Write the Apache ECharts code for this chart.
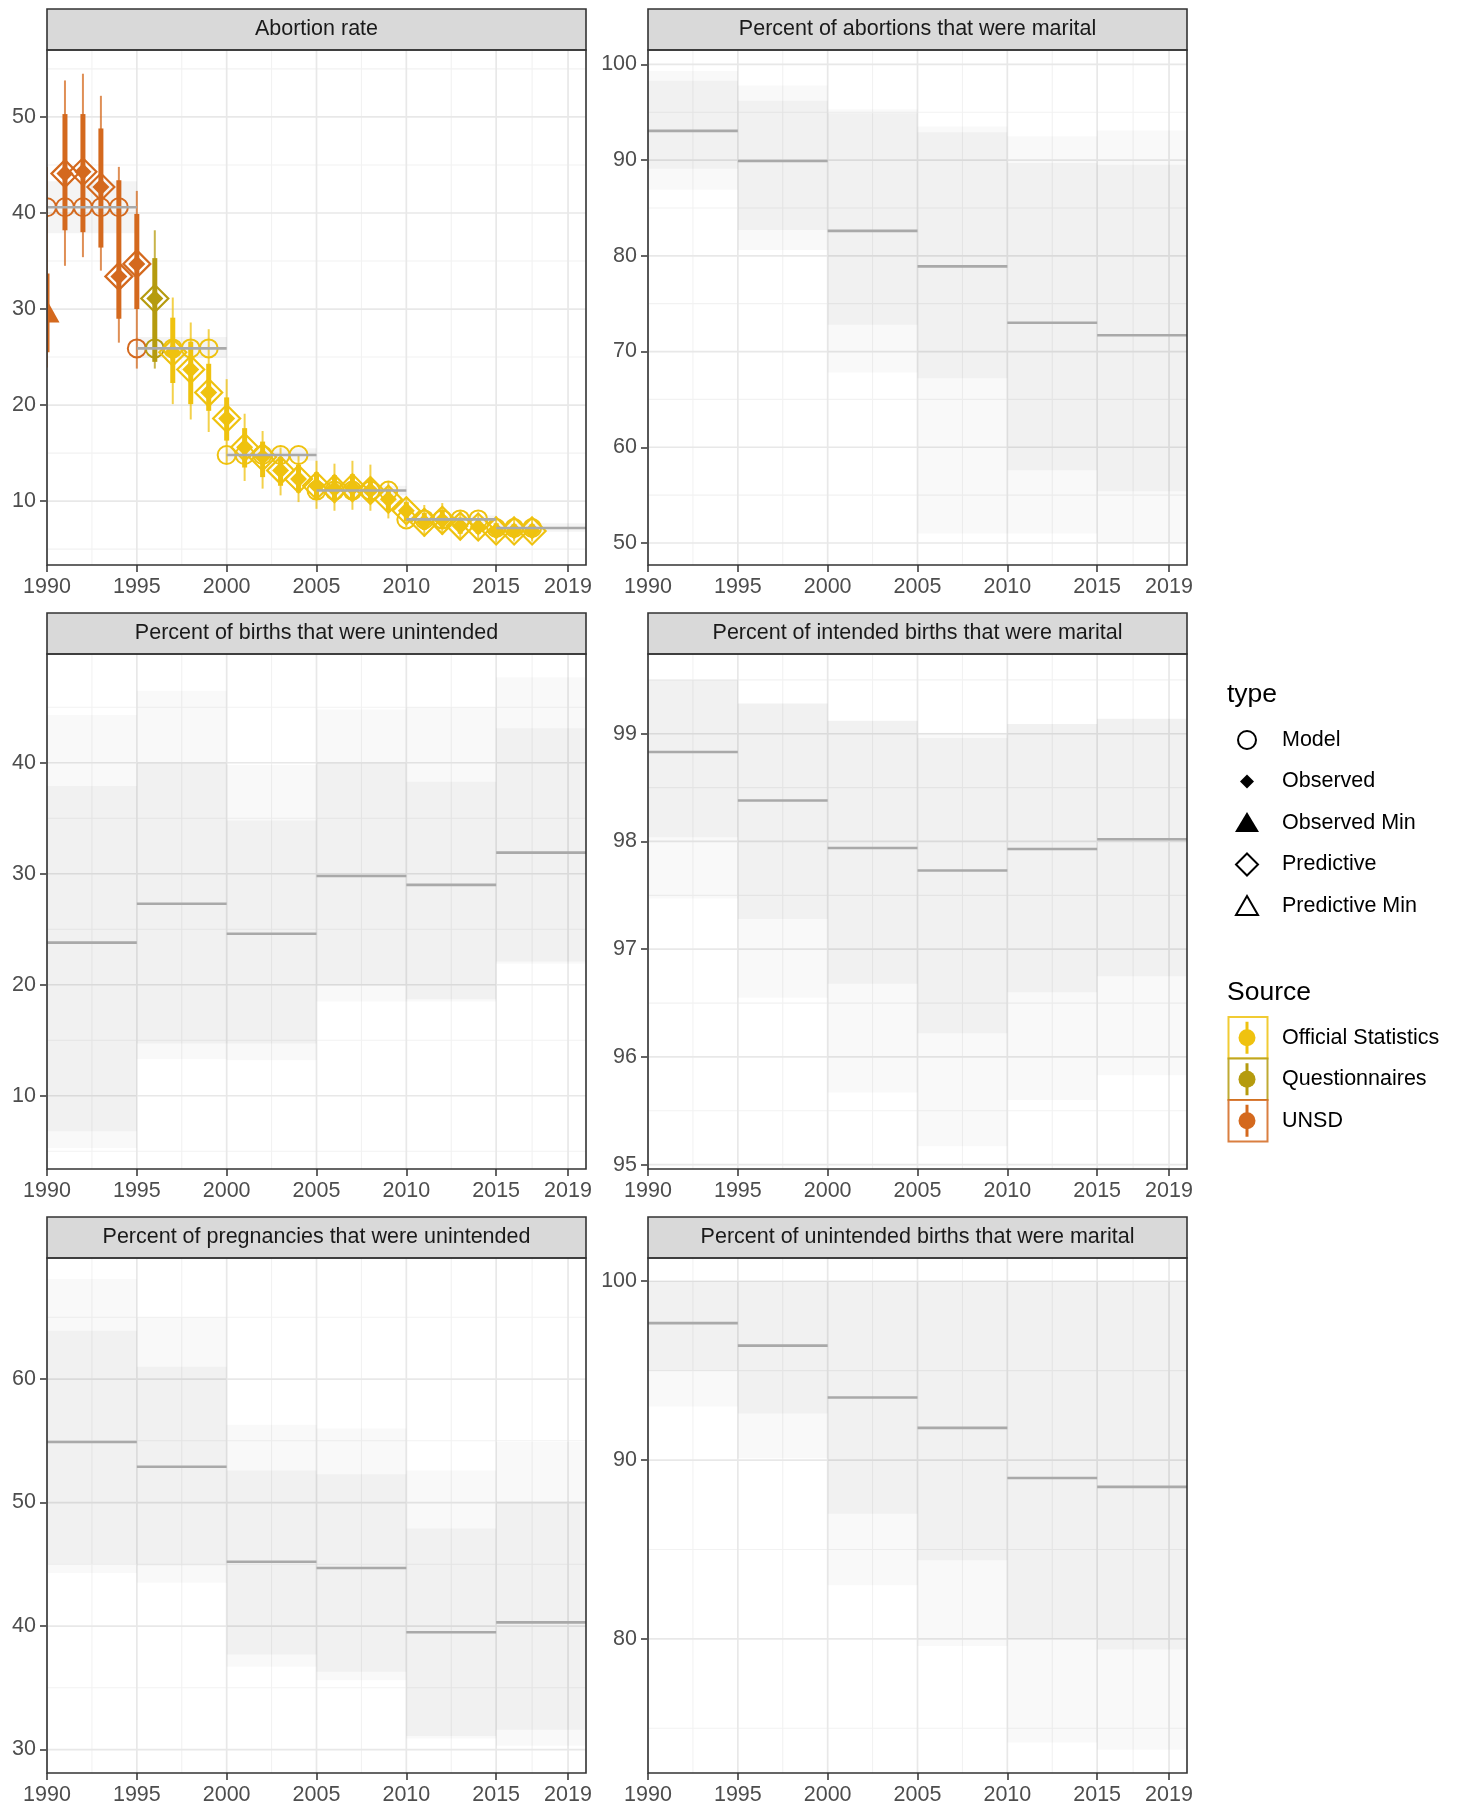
<!DOCTYPE html>
<html>
<head>
<meta charset="utf-8">
<title>Abortion and unintended pregnancy estimates</title>
<script src="https://cdn.jsdelivr.net/npm/echarts@6/dist/echarts.min.js"></script>
<style>
  html, body { margin: 0; padding: 0; background: #fff; }
  #main { width: 1457px; height: 1808px; }
</style>
</head>
<body>
<div id="main"></div>
<script>
// ---- data ----
var periodStart = [1990, 1995, 2000, 2005, 2010, 2015];
var periodEnd = [1995, 2000, 2005, 2010, 2015, 2020];
var xTicks = [1990, 1995, 2000, 2005, 2010, 2015, 2019];
var xMinor = [1992.5, 1997.5, 2002.5, 2007.5, 2012.5, 2017];

var sourceNames = ['Official Statistics', 'Questionnaires', 'UNSD'];
var sourceColors = ['#EFC20F', '#B59B0E', '#D4691E'];

// abortion rate, model per period
var abortMean = [40.6, 25.9, 14.8, 11.1, 8.1, 7.2];
var abortLo = [37.9, 24.9, 14.2, 10.6, 7.7, 6.8];
var abortHi = [43.3, 27.1, 15.5, 11.6, 8.5, 7.7];

// abortion rate, observed points (filled diamonds, predictive outline on top)
var obsYears = [1991, 1992, 1993, 1994, 1995, 1996, 1997, 1998, 1999, 2000, 2001, 2002, 2003, 2004,
  2005, 2006, 2007, 2008, 2009, 2010, 2011, 2012, 2013, 2014, 2015, 2016, 2017];
var obsValues = [44.1, 44.3, 42.7, 33.4, 34.7, 31.1, 25.5, 23.7, 21.3, 18.6, 15.6, 14.6, 13.2, 12.3,
  11.6, 11.3, 11.4, 11.1, 10.2, 9.0, 7.8, 8.0, 7.4, 7.3, 6.9, 6.9, 6.9];
var obsSource = [2, 2, 2, 2, 2, 1, 0, 0, 0, 0, 0, 0, 0, 0, 0, 0, 0, 0, 0, 0, 0, 0, 0, 0, 0, 0, 0];
var obsThinLo = [34.5, 35.4, 34.0, 26.5, 23.8, 23.8, 20.1, 18.5, 17.2, 13.9, 12.1, 11.3, 10.6, 9.9,
  9.2, 9.0, 9.1, 9.0, 8.2, 7.3, 6.3, 6.5, 6.0, 6.0, 5.7, 5.8, 5.8];
var obsThinHi = [53.8, 54.5, 52.2, 44.8, 42.3, 38.2, 31.2, 28.6, 27.9, 22.7, 19.1, 17.3, 15.6, 14.9,
  14.2, 13.9, 14.2, 13.8, 12.0, 10.4, 9.6, 9.8, 8.9, 8.8, 8.4, 8.2, 8.2];
var obsThickLo = [38.2, 38.0, 36.4, 29.0, 30.0, 24.5, 22.3, 20.1, 19.4, 16.3, 13.5, 12.5, 11.6, 10.9,
  10.2, 10.0, 10.1, 9.9, 9.0, 7.9, 7.0, 7.2, 6.6, 6.6, 6.3, 6.3, 6.3];
var obsThickHi = [50.3, 50.3, 48.8, 43.4, 39.9, 35.3, 29.1, 26.6, 24.3, 20.8, 17.6, 16.2, 14.6, 13.8,
  13.0, 12.7, 12.8, 12.4, 11.3, 9.9, 8.8, 9.0, 8.3, 8.2, 7.7, 7.6, 7.6];

// abortion rate, observed minimum (triangle)
var minYears = [1990];
var minValues = [29.5];
var minSource = [2];
var minThinLo = [23.9];
var minThinHi = [44.8];
var minThickLo = [25.5];
var minThickHi = [33.7];

// model circles, one per year with data
var circleYears = [1990, 1991, 1992, 1993, 1994, 1995, 1996, 1997, 1998, 1999, 2000, 2001, 2002, 2003,
  2004, 2005, 2006, 2007, 2008, 2009, 2010, 2011, 2012, 2013, 2014, 2015, 2016, 2017];
var circleSource = [2, 2, 2, 2, 2, 2, 1, 0, 0, 0, 0, 0, 0, 0, 0, 0, 0, 0, 0, 0, 0, 0, 0, 0, 0, 0, 0, 0];

// percent of abortions that were marital
var marAbMean = [93.05, 89.9, 82.6, 78.9, 73.0, 71.7];
var marAbInLo = [89.1, 82.7, 72.8, 67.2, 57.6, 55.4];
var marAbInHi = [98.3, 96.2, 94.9, 92.9, 89.7, 89.5];
var marAbOutLo = [86.9, 80.6, 67.8, 51.0, 51.0, 50.0];
var marAbOutHi = [99.3, 97.8, 95.3, 93.5, 92.5, 93.1];

// percent of births that were unintended
var unBirMean = [23.8, 27.3, 24.6, 29.8, 29.0, 31.9];
var unBirInLo = [6.8, 14.7, 14.7, 19.9, 18.7, 22.1];
var unBirInHi = [37.9, 40.0, 34.8, 40.0, 38.3, 43.1];
var unBirOutLo = [5.3, 13.3, 13.2, 18.5, 18.5, 21.9];
var unBirOutHi = [44.3, 46.5, 39.8, 44.8, 45.0, 47.7];

// percent of intended births that were marital
var inBirMean = [98.83, 98.38, 97.94, 97.73, 97.93, 98.02];
var inBirInLo = [98.04, 97.28, 96.68, 96.22, 96.60, 96.75];
var inBirInHi = [99.50, 99.28, 99.12, 98.96, 99.09, 99.14];
var inBirOutLo = [97.47, 96.55, 95.67, 95.17, 95.60, 95.83];
var inBirOutHi = [99.50, 99.28, 99.12, 99.01, 99.09, 99.14];

// percent of pregnancies that were unintended
var unPrMean = [54.9, 52.9, 45.2, 44.7, 39.5, 40.3];
var unPrInLo = [45.05, 44.9, 37.7, 36.3, 31.1, 31.6];
var unPrInHi = [63.9, 61.0, 52.6, 52.3, 47.9, 50.1];
var unPrOutLo = [44.3, 43.5, 36.7, 35.6, 30.9, 30.3];
var unPrOutHi = [68.1, 65.0, 56.3, 56.0, 52.6, 54.9];

// percent of unintended births that were marital
var unMarMean = [97.66, 96.4, 93.5, 91.8, 89.0, 88.5];
var unMarInLo = [95.0, 92.6, 87.0, 84.4, 80.0, 79.4];
var unMarInHi = [100, 100, 100, 100, 100, 100];
var unMarOutLo = [93.0, 90.1, 83.0, 79.6, 74.2, 73.8];
var unMarOutHi = [100, 100, 100, 100, 100, 100];

var panels = [
  { title: 'Abortion rate', yMin: 3.35, yMax: 56.97, major: [10, 20, 30, 40, 50], minor: [5, 15, 25, 35, 45, 55],
    mean: abortMean, inLo: abortLo, inHi: abortHi, outLo: null, outHi: null },
  { title: 'Percent of abortions that were marital', yMin: 47.7, yMax: 101.5, major: [50, 60, 70, 80, 90, 100], minor: [55, 65, 75, 85, 95],
    mean: marAbMean, inLo: marAbInLo, inHi: marAbInHi, outLo: marAbOutLo, outHi: marAbOutHi },
  { title: 'Percent of births that were unintended', yMin: 3.4, yMax: 49.8, major: [10, 20, 30, 40], minor: [5, 15, 25, 35, 45],
    mean: unBirMean, inLo: unBirInLo, inHi: unBirInHi, outLo: unBirOutLo, outHi: unBirOutHi },
  { title: 'Percent of intended births that were marital', yMin: 94.96, yMax: 99.74, major: [95, 96, 97, 98, 99], minor: [95.5, 96.5, 97.5, 98.5, 99.5],
    mean: inBirMean, inLo: inBirInLo, inHi: inBirInHi, outLo: inBirOutLo, outHi: inBirOutHi },
  { title: 'Percent of pregnancies that were unintended', yMin: 28.1, yMax: 69.8, major: [30, 40, 50, 60], minor: [35, 45, 55, 65],
    mean: unPrMean, inLo: unPrInLo, inHi: unPrInHi, outLo: unPrOutLo, outHi: unPrOutHi },
  { title: 'Percent of unintended births that were marital', yMin: 72.5, yMax: 101.3, major: [80, 90, 100], minor: [75, 85, 95],
    mean: unMarMean, inLo: unMarInLo, inHi: unMarInHi, outLo: unMarOutLo, outHi: unMarOutHi }
];

// ---- layout ----
var ff = "'Liberation Sans', Arial, Helvetica, sans-serif";
var colLeft = [47, 648];
var rowTop = [50, 654, 1258];
var W = 539, H = 515, stripH = 41;

function gridBox(i) {
  return { left: colLeft[i % 2], top: rowTop[Math.floor(i / 2)], width: W, height: H };
}

// ---- series helpers ----
function vLines(gi, vals, color, width) {
  return {
    type: 'custom', xAxisIndex: gi, yAxisIndex: gi, z: 1, silent: true, clip: false,
    data: vals.map(function (v) { return [v, panels[gi].yMin]; }),
    renderItem: function (params, api) {
      var cs = params.coordSys;
      var x = api.coord([api.value(0), api.value(1)])[0];
      return { type: 'line', shape: { x1: x, y1: cs.y, x2: x, y2: cs.y + cs.height },
        style: { stroke: color, lineWidth: width } };
    }
  };
}
function hLines(gi, vals, color, width) {
  return {
    type: 'custom', xAxisIndex: gi, yAxisIndex: gi, z: 1, silent: true, clip: false,
    data: vals.map(function (v) { return [1990, v]; }),
    renderItem: function (params, api) {
      var cs = params.coordSys;
      var y = api.coord([api.value(0), api.value(1)])[1];
      return { type: 'line', shape: { x1: cs.x, y1: y, x2: cs.x + cs.width, y2: y },
        style: { stroke: color, lineWidth: width } };
    }
  };
}
function bands(gi, lo, hi, fill) {
  return {
    type: 'custom', xAxisIndex: gi, yAxisIndex: gi, z: 2, silent: true, clip: true,
    data: periodStart.map(function (s, k) { return [s, periodEnd[k], lo[k], hi[k]]; }),
    renderItem: function (params, api) {
      var a = api.coord([api.value(0), api.value(3)]);
      var b = api.coord([api.value(1), api.value(2)]);
      return { type: 'rect', shape: { x: a[0], y: a[1], width: b[0] - a[0], height: b[1] - a[1] },
        style: { fill: fill } };
    }
  };
}
function steps(gi, mean, z) {
  return {
    type: 'custom', xAxisIndex: gi, yAxisIndex: gi, z: z, silent: true, clip: true,
    data: periodStart.map(function (s, k) { return [s, periodEnd[k], mean[k]]; }),
    renderItem: function (params, api) {
      var a = api.coord([api.value(0), api.value(2)]);
      var b = api.coord([api.value(1), api.value(2)]);
      return { type: 'line', shape: { x1: a[0], y1: a[1], x2: b[0], y2: b[1] },
        style: { stroke: '#A9A9A9', lineWidth: 2.6 } };
    }
  };
}
function ranges(years, lo, hi, src, width, opacity) {
  return {
    type: 'custom', xAxisIndex: 0, yAxisIndex: 0, z: 4, silent: true, clip: true,
    data: years.map(function (y, k) { return [y, lo[k], hi[k], src[k]]; }),
    renderItem: function (params, api) {
      var a = api.coord([api.value(0), api.value(1)]);
      var b = api.coord([api.value(0), api.value(2)]);
      return { type: 'line', shape: { x1: a[0], y1: a[1], x2: b[0], y2: b[1] },
        style: { stroke: sourceColors[api.value(3)], lineWidth: width, opacity: opacity } };
    }
  };
}
function marks(years, vals, src, shape, z) {
  return {
    type: 'custom', xAxisIndex: 0, yAxisIndex: 0, z: z, silent: true, clip: true,
    data: years.map(function (y, k) { return [y, vals[k], src[k]]; }),
    renderItem: function (params, api) {
      var p = api.coord([api.value(0), api.value(1)]);
      var c = sourceColors[api.value(2)];
      var cx = p[0], cy = p[1];
      if (shape === 'circle') {
        return { type: 'circle', shape: { cx: cx, cy: cy, r: 9 },
          style: { fill: 'none', stroke: c, lineWidth: 2 } };
      }
      if (shape === 'openDiamond') {
        var h = 13.5;
        return { type: 'polygon', shape: { points: [[cx, cy - h], [cx + h, cy], [cx, cy + h], [cx - h, cy]] },
          style: { fill: 'none', stroke: c, lineWidth: 2.2 } };
      }
      if (shape === 'diamond') {
        var d = 8.5;
        return { type: 'polygon', shape: { points: [[cx, cy - d], [cx + d, cy], [cx, cy + d], [cx - d, cy]] },
          style: { fill: c } };
      }
      var t = 12.5;
      return { type: 'polygon', shape: { points: [[cx, cy - t * 1.1], [cx + t, cy + t * 0.7], [cx - t, cy + t * 0.7]] },
        style: { fill: c } };
    }
  };
}

// ---- build option ----
var grids = [], xAxes = [], yAxes = [], series = [], graphics = [];
function plainNum(v) { return String(v); }

panels.forEach(function (p, i) {
  var g = gridBox(i);
  grids.push({ left: g.left, top: g.top, width: g.width, height: g.height, show: true,
    backgroundColor: '#fff', borderWidth: 0 });
  xAxes.push({
    type: 'value', gridIndex: i, min: 1990, max: 2020,
    splitLine: { show: false }, axisLine: { show: false },
    axisTick: { show: true, customValues: xTicks, length: 7, lineStyle: { color: '#333', width: 1.5 } },
    axisLabel: { customValues: xTicks, formatter: plainNum, fontSize: 21.5, color: '#4D4D4D', margin: 11, fontFamily: ff }
  });
  yAxes.push({
    type: 'value', gridIndex: i, min: p.yMin, max: p.yMax,
    splitLine: { show: false }, axisLine: { show: false },
    axisTick: { show: true, customValues: p.major, length: 7, lineStyle: { color: '#333', width: 1.5 } },
    axisLabel: { customValues: p.major, formatter: plainNum, fontSize: 21.5, color: '#4D4D4D', margin: 11, fontFamily: ff }
  });

  series.push(vLines(i, xMinor, '#F2F2F2', 1.1));
  series.push(hLines(i, p.minor, '#F2F2F2', 1.1));
  series.push(vLines(i, xTicks, '#E8E8E8', 1.7));
  series.push(hLines(i, p.major, '#E8E8E8', 1.7));
  if (p.outLo) series.push(bands(i, p.outLo, p.outHi, 'rgba(0,0,0,0.022)'));
  series.push(bands(i, p.inLo, p.inHi, i === 0 ? 'rgba(0,0,0,0.045)' : 'rgba(0,0,0,0.03)'));
  series.push(steps(i, p.mean, i === 0 ? 9 : 3));

  // strip + border
  graphics.push({ type: 'rect', z: 100, silent: true,
    shape: { x: g.left, y: g.top - stripH, width: W, height: stripH },
    style: { fill: '#D9D9D9', stroke: '#333', lineWidth: 1.6 } });
  graphics.push({ type: 'text', z: 101, silent: true,
    style: { text: p.title, x: g.left + W / 2, y: g.top - stripH / 2, fill: '#1A1A1A',
      fontSize: 21.5, fontFamily: ff, align: 'center', verticalAlign: 'middle',
      textAlign: 'center', textVerticalAlign: 'middle' } });
  graphics.push({ type: 'rect', z: 100, silent: true,
    shape: { x: g.left, y: g.top, width: W, height: H },
    style: { fill: 'none', stroke: '#333', lineWidth: 1.6 } });
});

// abortion-rate points
var circleValues = circleYears.map(function (y) {
  return abortMean[Math.min(5, Math.floor((y - 1990) / 5))];
});
series.push(ranges(obsYears, obsThinLo, obsThinHi, obsSource, 2, 0.75));
series.push(ranges(minYears, minThinLo, minThinHi, minSource, 2, 0.75));
series.push(ranges(obsYears, obsThickLo, obsThickHi, obsSource, 5, 1));
series.push(ranges(minYears, minThickLo, minThickHi, minSource, 5, 1));
series.push(marks(circleYears, circleValues, circleSource, 'circle', 5));
series.push(marks(obsYears, obsValues, obsSource, 'openDiamond', 6));
series.push(marks(obsYears, obsValues, obsSource, 'diamond', 7));
series.push(marks(minYears, minValues, minSource, 'triangle', 7));

// ---- legend ----
function legendText(t, x, y, size) {
  return { type: 'text', z: 110, silent: true,
    style: { text: t, x: x, y: y, fill: '#000', fontSize: size, fontFamily: ff,
      align: 'left', verticalAlign: 'middle', textAlign: 'left', textVerticalAlign: 'middle' } };
}
var typeNames = ['Model', 'Observed', 'Observed Min', 'Predictive', 'Predictive Min'];
var typeY = [740, 781.5, 823, 864.5, 906];
var sx = 1247;
graphics.push(legendText('type', 1227, 695, 26.5));
typeNames.forEach(function (n, k) { graphics.push(legendText(n, 1282, typeY[k], 21.5)); });
graphics.push({ type: 'circle', z: 110, silent: true, shape: { cx: sx, cy: typeY[0], r: 9 },
  style: { fill: 'none', stroke: '#000', lineWidth: 2 } });
graphics.push({ type: 'polygon', z: 110, silent: true,
  shape: { points: [[sx, typeY[1] - 7], [sx + 7, typeY[1]], [sx, typeY[1] + 7], [sx - 7, typeY[1]]] },
  style: { fill: '#000' } });
graphics.push({ type: 'polygon', z: 110, silent: true,
  shape: { points: [[sx, typeY[2] - 11], [sx + 12, typeY[2] + 9], [sx - 12, typeY[2] + 9]] },
  style: { fill: '#000' } });
graphics.push({ type: 'polygon', z: 110, silent: true,
  shape: { points: [[sx, typeY[3] - 11], [sx + 11, typeY[3]], [sx, typeY[3] + 11], [sx - 11, typeY[3]]] },
  style: { fill: 'none', stroke: '#000', lineWidth: 2 } });
graphics.push({ type: 'polygon', z: 110, silent: true,
  shape: { points: [[sx, typeY[4] - 10], [sx + 11, typeY[4] + 9], [sx - 11, typeY[4] + 9]] },
  style: { fill: 'none', stroke: '#000', lineWidth: 2 } });

graphics.push(legendText('Source', 1227, 992.5, 26.5));
var boxTop = 1017, boxH = 41.5;
sourceNames.forEach(function (n, k) {
  var cy = boxTop + boxH * k + boxH / 2;
  graphics.push({ type: 'rect', z: 110, silent: true,
    shape: { x: 1228.5, y: boxTop + boxH * k, width: 39, height: boxH },
    style: { fill: '#fff', stroke: sourceColors[k], lineWidth: 2, opacity: 0.85 } });
  graphics.push({ type: 'line', z: 111, silent: true,
    shape: { x1: sx, y1: cy - 16, x2: sx, y2: cy + 16 },
    style: { stroke: sourceColors[k], lineWidth: 3 } });
  graphics.push({ type: 'circle', z: 112, silent: true, shape: { cx: sx, cy: cy, r: 8.5 },
    style: { fill: sourceColors[k] } });
  graphics.push(legendText(n, 1282, cy, 21.5));
});

var chart = echarts.init(document.getElementById('main'));
var option = {
  backgroundColor: '#fff',
  animation: false,
  textStyle: { fontFamily: ff },
  grid: grids,
  xAxis: xAxes,
  yAxis: yAxes,
  series: series,
  graphic: graphics
};
chart.setOption(option);
</script>
</body>
</html>
